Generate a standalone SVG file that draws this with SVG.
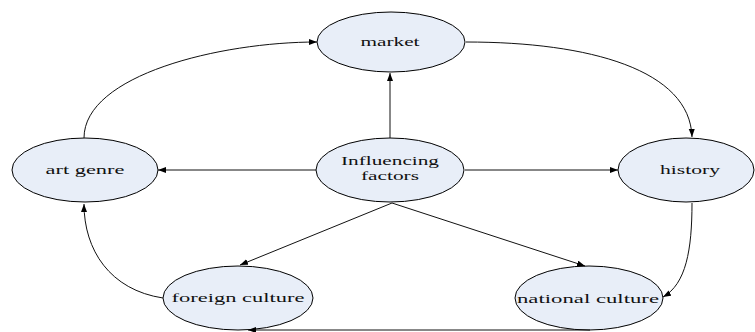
<svg xmlns="http://www.w3.org/2000/svg" width="755" height="332" viewBox="0 0 755 332">
<style>
.node ellipse{fill:#e8eef8;stroke:#000;stroke-width:1}
.node text{font-family:'Liberation Serif','Times New Roman',serif;font-size:13px;fill:#111;text-anchor:middle}
.node text.two{font-size:12px}
.edges path{fill:none;stroke:#111;stroke-width:1;marker-end:url(#arr)}
</style>
<defs>
<marker id="arr" markerUnits="userSpaceOnUse" markerWidth="9" markerHeight="7" refX="8" refY="3" orient="auto">
<path d="M0,0 L8,3 L0,6 z" fill="#000"/>
</marker>
</defs>
<rect width="755" height="332" fill="#fff"/>
<g id="n-market" class="node"><ellipse cx="391" cy="42" rx="74" ry="30"/><text x="390" y="46" textLength="59" lengthAdjust="spacingAndGlyphs">market</text></g>
<g id="n-influencing" class="node"><ellipse cx="390" cy="170" rx="74" ry="32"/><text class="two" x="390" y="165" textLength="98" lengthAdjust="spacingAndGlyphs">Influencing</text><text class="two" x="390" y="179.5" textLength="58" lengthAdjust="spacingAndGlyphs">factors</text></g>
<g id="n-artgenre" class="node"><ellipse cx="85" cy="170" rx="73" ry="32"/><text x="85" y="174" textLength="79" lengthAdjust="spacingAndGlyphs">art genre</text></g>
<g id="n-history" class="node"><ellipse cx="686" cy="170" rx="68" ry="32"/><text x="690" y="174" textLength="60" lengthAdjust="spacingAndGlyphs">history</text></g>
<g id="n-foreign" class="node"><ellipse cx="238" cy="298" rx="75" ry="32"/><text x="238" y="302" textLength="133" lengthAdjust="spacingAndGlyphs">foreign culture</text></g>
<g id="n-national" class="node"><ellipse cx="589" cy="298" rx="74" ry="32"/><text x="588" y="303" textLength="142" lengthAdjust="spacingAndGlyphs">national culture</text></g>
<g id="edges" class="edges">
<path d="M390,138 L390,73"/>
<path d="M316,170 L158,170"/>
<path d="M465,170 L618,170"/>
<path d="M392,203 L240,265"/>
<path d="M392,203 L585,266"/>
<path d="M84,138 C84,75 220,42 317,42"/>
<path d="M466,42 C590,42 690,70 692,137"/>
<path d="M692,203 C692,250 686,284 663,297"/>
<path d="M163,298 C110,290 84,250 84,204"/>
<path d="M590,330 L248,330"/>
</g>
</svg>
